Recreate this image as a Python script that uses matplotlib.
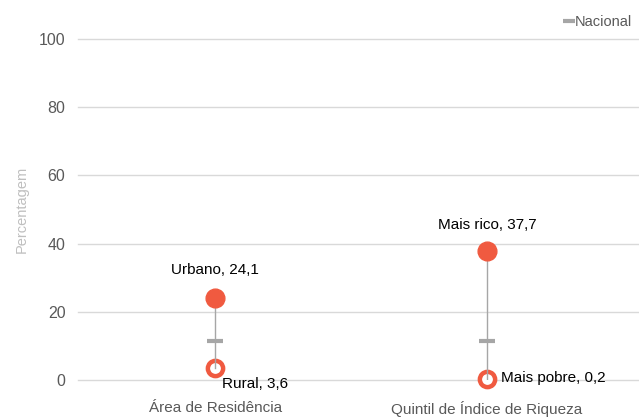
import matplotlib.pyplot as plt
from matplotlib.lines import Line2D

# Data
categories = ['Área de Residência', 'Quintil de Índice de Riqueza']
high_labels = ['Urbano', 'Mais rico']
high_values = [24.1, 37.7]
low_labels = ['Rural', 'Mais pobre']
low_values = [3.6, 0.2]
national = [11.3, 11.3]
yticks = [0, 20, 40, 60, 80, 100]

red = '#F05A40'
grey = '#A6A6A6'
plt.rcParams['font.family'] = ['Liberation Sans', 'DejaVu Sans']

fig = plt.figure(figsize=(6.39, 4.19), dpi=100)
ax = fig.add_axes([78 / 639, 39 / 419, 560 / 639, 341 / 419])

x = list(range(len(categories)))

# hollow low markers, then range line, then filled high markers
ax.plot(x, low_values, 'o', ms=11, mfc='white', mec=red, mew=3.2,
        ls='none', zorder=3, clip_on=False)
for i in x:
    ax.plot([i, i], [low_values[i], high_values[i]], color=grey, lw=1, zorder=4)
ax.plot(x, high_values, 'o', ms=13.5, color=red, ls='none', zorder=5, clip_on=False)
ax.plot(x, national, '_', ms=12, mew=3, color=grey, ls='none', zorder=4)

# value labels
fmt = lambda v: f'{v:.1f}'.replace('.', ',')
fs = 11
ax.annotate(f'{high_labels[0]}, {fmt(high_values[0])}', (x[0], high_values[0]),
            xytext=(0, 20), textcoords='offset points', ha='center', va='center', fontsize=fs)
ax.annotate(f'{low_labels[0]}, {fmt(low_values[0])}', (x[0], low_values[0]),
            xytext=(5, -12), textcoords='offset points', ha='left', va='center', fontsize=fs)
ax.annotate(f'{high_labels[1]}, {fmt(high_values[1])}', (x[1], high_values[1]),
            xytext=(0, 19), textcoords='offset points', ha='center', va='center', fontsize=fs)
ax.annotate(f'{low_labels[1]}, {fmt(low_values[1])}', (x[1], low_values[1]),
            xytext=(10, 1), textcoords='offset points', ha='left', va='center', fontsize=fs)

ax.set_xlim(-0.504, 1.555)
ax.set_ylim(0, 100)
ax.set_yticks(yticks)
ax.set_xticks(x)
ax.set_xticklabels(categories)
ax.tick_params(axis='y', length=0, pad=9, labelsize=11.5, labelcolor='#595959')
ax.tick_params(axis='x', length=0, pad=15, labelsize=11, labelcolor='#595959')
ax.grid(axis='y', color='#D9D9D9', lw=1)
for gl in ax.get_ygridlines():
    gl.set_clip_on(False)
ax.set_axisbelow(True)
for s in ax.spines.values():
    s.set_visible(False)
ax.set_ylabel('Percentagem', color='#BFBFBF', fontsize=10.5, labelpad=7)

handle = Line2D([], [], marker='_', ms=8, mew=3, color=grey, ls='none')
fig.legend([handle], ['Nacional'], loc='center right', bbox_to_anchor=(1.0, 1 - 22 / 419),
           frameon=False, fontsize=10.5, labelcolor='#595959', handletextpad=0.0,
           borderaxespad=0.1, handlelength=0.8)

fig.savefig('out.png', dpi=100)
